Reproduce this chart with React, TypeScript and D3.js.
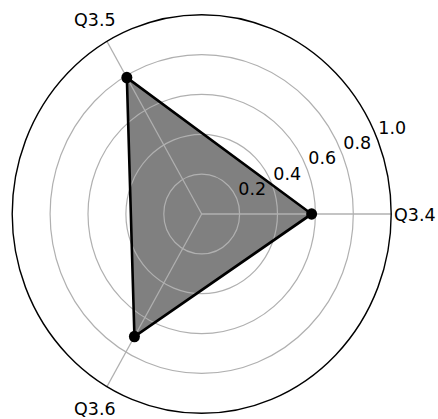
import React from 'react';
import * as d3 from 'd3';

const CATEGORIES = ['Q3.4', 'Q3.5', 'Q3.6'];
const VALUES = [0.58, 0.79, 0.71];
const R_TICKS = [0.2, 0.4, 0.6, 0.8, 1.0];

const width = 438;
const height = 419;
const cx = 201.7;
const cy = 214;
const outerRadius = 189.5;
const yStretch = 1.052;
const fontSize = 17.5;
const rLabelAngle = 22.5;

const r = d3.scaleLinear().domain([0, 1]).range([0, outerRadius]);
const theta = d3.scaleLinear().domain([0, CATEGORIES.length]).range([0, 2 * Math.PI]);

// screen position for a polar (angle, radius) pair, angle counter-clockwise from east
const polar = (a: number, rad: number): [number, number] => [
  rad * Math.cos(a),
  -rad * Math.sin(a),
];

const App = () => {
  const points = VALUES.map((v, i) => polar(theta(i), r(v)));
  const area = d3.line().curve(d3.curveLinearClosed)(points) || '';
  const rla = (rLabelAngle * Math.PI) / 180;

  return (
    <svg
      width={width}
      height={height}
      style={{ position: 'absolute', left: 0, top: 0 }}
      fontFamily="DejaVu Sans"
      fontSize={fontSize}
    >
      <rect width={width} height={height} fill="#fff" />
      <g transform={`translate(${cx},${cy}) scale(1,${yStretch})`}>
        <path d={area} fill="#808080" stroke="none" />

        {R_TICKS.slice(0, -1).map(t => (
          <circle key={t} r={r(t)} fill="none" stroke="#b0b0b0" strokeWidth={1.2} />
        ))}
        {CATEGORIES.map((c, i) => {
          const [x, y] = polar(theta(i), outerRadius);
          return <line key={c} x1={0} y1={0} x2={x} y2={y} stroke="#b0b0b0" strokeWidth={1.2} />;
        })}

        <path d={area} fill="none" stroke="#000" strokeWidth={2.6} strokeLinejoin="round" />
        {points.map(([x, y], i) => (
          <circle key={i} cx={x} cy={y} r={5.5} fill="#000" />
        ))}

        <circle r={outerRadius} fill="none" stroke="#000" strokeWidth={1.4} />

        {R_TICKS.map(t => {
          const [x, y] = polar(rla, r(t));
          return (
            <text key={t} x={x + 1.6} y={y - 3.8} fill="#000">
              {d3.format('.1f')(t)}
            </text>
          );
        })}

        {CATEGORIES.map((c, i) => {
          const a = theta(i);
          const d = 3.3 + Math.abs(Math.cos(a)) * 20.3 + Math.abs(Math.sin(a)) * 12.6;
          const [x, y] = polar(a, outerRadius + d);
          return (
            <text key={c} x={x} y={y} dy="0.36em" textAnchor="middle" fill="#000">
              {c}
            </text>
          );
        })}
      </g>
    </svg>
  );
};

export default App;
